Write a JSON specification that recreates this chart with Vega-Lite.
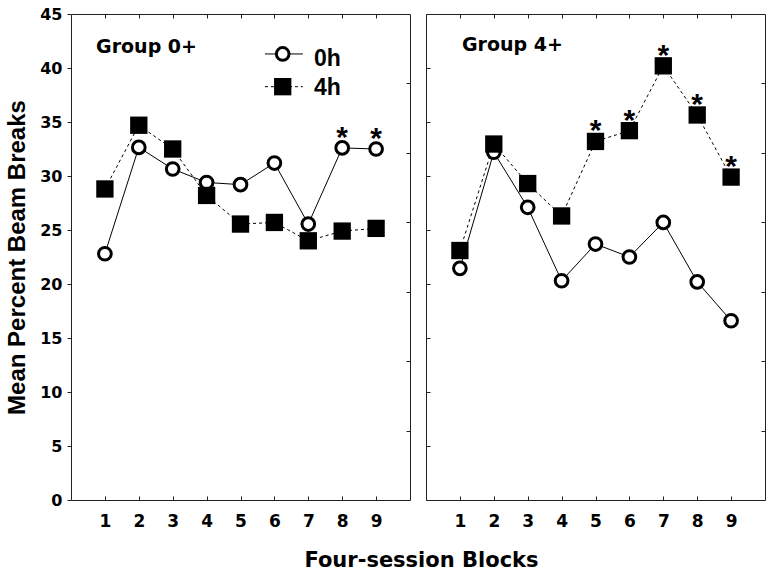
{
  "$schema": "https://vega.github.io/schema/vega-lite/v6.json",
  "background": "white",
  "padding": 5,
  "bounds": "flush",
  "spacing": 16,
  "datasets": {
    "d": [
      {"group": "Group 0+", "cond": "0h", "block": 1, "value": 22.8, "sig": false},
      {"group": "Group 0+", "cond": "0h", "block": 2, "value": 32.65, "sig": false},
      {"group": "Group 0+", "cond": "0h", "block": 3, "value": 30.65, "sig": false},
      {"group": "Group 0+", "cond": "0h", "block": 4, "value": 29.4, "sig": false},
      {"group": "Group 0+", "cond": "0h", "block": 5, "value": 29.2, "sig": false},
      {"group": "Group 0+", "cond": "0h", "block": 6, "value": 31.2, "sig": false},
      {"group": "Group 0+", "cond": "0h", "block": 7, "value": 25.55, "sig": false},
      {"group": "Group 0+", "cond": "0h", "block": 8, "value": 32.6, "sig": true},
      {"group": "Group 0+", "cond": "0h", "block": 9, "value": 32.5, "sig": true},
      {"group": "Group 0+", "cond": "4h", "block": 1, "value": 28.8, "sig": false},
      {"group": "Group 0+", "cond": "4h", "block": 2, "value": 34.7, "sig": false},
      {"group": "Group 0+", "cond": "4h", "block": 3, "value": 32.5, "sig": false},
      {"group": "Group 0+", "cond": "4h", "block": 4, "value": 28.2, "sig": false},
      {"group": "Group 0+", "cond": "4h", "block": 5, "value": 25.55, "sig": false},
      {"group": "Group 0+", "cond": "4h", "block": 6, "value": 25.7, "sig": false},
      {"group": "Group 0+", "cond": "4h", "block": 7, "value": 24.0, "sig": false},
      {"group": "Group 0+", "cond": "4h", "block": 8, "value": 24.9, "sig": false},
      {"group": "Group 0+", "cond": "4h", "block": 9, "value": 25.15, "sig": false},
      {"group": "Group 4+", "cond": "0h", "block": 1, "value": 21.45, "sig": false},
      {"group": "Group 4+", "cond": "0h", "block": 2, "value": 32.2, "sig": false},
      {"group": "Group 4+", "cond": "0h", "block": 3, "value": 27.1, "sig": false},
      {"group": "Group 4+", "cond": "0h", "block": 4, "value": 20.3, "sig": false},
      {"group": "Group 4+", "cond": "0h", "block": 5, "value": 23.7, "sig": false},
      {"group": "Group 4+", "cond": "0h", "block": 6, "value": 22.5, "sig": false},
      {"group": "Group 4+", "cond": "0h", "block": 7, "value": 25.7, "sig": false},
      {"group": "Group 4+", "cond": "0h", "block": 8, "value": 20.2, "sig": false},
      {"group": "Group 4+", "cond": "0h", "block": 9, "value": 16.6, "sig": false},
      {"group": "Group 4+", "cond": "4h", "block": 1, "value": 23.1, "sig": false},
      {"group": "Group 4+", "cond": "4h", "block": 2, "value": 32.96, "sig": false},
      {"group": "Group 4+", "cond": "4h", "block": 3, "value": 29.3, "sig": false},
      {"group": "Group 4+", "cond": "4h", "block": 4, "value": 26.3, "sig": false},
      {"group": "Group 4+", "cond": "4h", "block": 5, "value": 33.2, "sig": true},
      {"group": "Group 4+", "cond": "4h", "block": 6, "value": 34.2, "sig": true},
      {"group": "Group 4+", "cond": "4h", "block": 7, "value": 40.2, "sig": true},
      {"group": "Group 4+", "cond": "4h", "block": 8, "value": 35.65, "sig": true},
      {"group": "Group 4+", "cond": "4h", "block": 9, "value": 29.9, "sig": true}
    ]
  },
  "config": {
    "view": {"stroke": "#222", "strokeWidth": 1},
    "axis": {"grid": false, "domain": false, "tickColor": "#222", "labelColor": "#000", "titleColor": "#000", "labelFont": "DejaVu Sans", "labelFontWeight": "bold"}
  },
  "hconcat": [
    {
      "width": 339,
      "height": 486,
      "data": {"name": "d"},
      "transform": [{"filter": "datum.group === 'Group 0+'"}],
      "layer": [
        {
          "layer": [
            {
              "transform": [{"filter": "datum.cond === '0h'"}],
              "mark": {"type": "line", "color": "#000", "strokeWidth": 1},
              "encoding": {
                "x": {"field": "block", "type": "quantitative", "scale": {"domain": [0, 10], "nice": false},
                  "axis": {"values": [1, 2, 3, 4, 5, 6, 7, 8, 9], "tickSize": -4, "labelPadding": 17, "labelFontSize": 17,
                    "title": "Four-session Blocks", "titleX": 350, "titleY": 66, "titleBaseline": "alphabetic", "titleAlign": "center",
                    "titleFont": "DejaVu Sans", "titleFontSize": 21, "titleFontWeight": "bold"}},
                "y": {"field": "value", "type": "quantitative", "scale": {"domain": [0, 45], "nice": false},
                  "axis": {"values": [0, 5, 10, 15, 20, 25, 30, 35, 40, 45], "tickSize": 4, "labelPadding": 5, "labelFontSize": 16,
                    "title": "Mean Percent Beam Breaks", "titleFont": "Liberation Sans", "titleFontSize": 24, "titleFontWeight": "bold", "titlePadding": 10}}
              }
            },
            {
              "transform": [{"filter": "datum.cond === '4h'"}],
              "mark": {"type": "line", "color": "#000", "strokeWidth": 1, "strokeDash": [3, 3]},
              "encoding": {"x": {"field": "block", "type": "quantitative"}, "y": {"field": "value", "type": "quantitative"}}
            },
            {
              "transform": [{"filter": "datum.cond === '0h'"}],
              "mark": {"type": "point", "shape": "circle", "filled": true, "fill": "#fff", "stroke": "#000", "strokeWidth": 3, "size": 161, "opacity": 1},
              "encoding": {"x": {"field": "block", "type": "quantitative"}, "y": {"field": "value", "type": "quantitative"}}
            },
            {
              "transform": [{"filter": "datum.cond === '4h'"}],
              "mark": {"type": "point", "shape": "square", "filled": true, "fill": "#000", "stroke": null, "size": 300, "opacity": 1},
              "encoding": {"x": {"field": "block", "type": "quantitative"}, "y": {"field": "value", "type": "quantitative"}}
            },
            {
              "transform": [{"filter": "datum.sig"}],
              "mark": {"type": "text", "text": "*", "font": "Liberation Sans", "fontSize": 30, "fontWeight": "bold", "baseline": "alphabetic", "align": "center", "dy": -1, "color": "#000"},
              "encoding": {"x": {"field": "block", "type": "quantitative"}, "y": {"field": "value", "type": "quantitative"}}
            },
            {
              "data": {"values": [{"label": "Group 0+"}]},
              "mark": {"type": "text", "font": "DejaVu Sans", "fontSize": 19, "fontWeight": "bold", "align": "left", "baseline": "alphabetic", "color": "#000"},
              "encoding": {"x": {"datum": 0.74}, "y": {"datum": 41.36}, "text": {"field": "label"}}
            },
            {
              "data": {"values": [{"label": "0h"}]},
              "mark": {"type": "rule", "color": "#000", "strokeWidth": 1},
              "encoding": {"x": {"datum": 5.72}, "x2": {"datum": 6.84}, "y": {"datum": 41.3}}
            },
            {
              "data": {"values": [{"label": "4h"}]},
              "mark": {"type": "rule", "color": "#000", "strokeWidth": 1, "strokeDash": [3, 3]},
              "encoding": {"x": {"datum": 5.72}, "x2": {"datum": 6.84}, "y": {"datum": 38.27}}
            },
            {
              "data": {"values": [{"label": "0h"}]},
              "mark": {"type": "point", "shape": "circle", "filled": true, "fill": "#fff", "stroke": "#000", "strokeWidth": 3, "size": 161, "opacity": 1},
              "encoding": {"x": {"datum": 6.245}, "y": {"datum": 41.3}}
            },
            {
              "data": {"values": [{"label": "4h"}]},
              "mark": {"type": "point", "shape": "square", "filled": true, "fill": "#000", "stroke": null, "size": 300, "opacity": 1},
              "encoding": {"x": {"datum": 6.245}, "y": {"datum": 38.27}}
            },
            {
              "data": {"values": [{"label": "0h"}]},
              "mark": {"type": "text", "font": "Liberation Sans", "fontSize": 23, "fontWeight": "bold", "align": "left", "baseline": "alphabetic", "color": "#000"},
              "encoding": {"x": {"datum": 7.17}, "y": {"datum": 40.19}, "text": {"field": "label"}}
            },
            {
              "data": {"values": [{"label": "4h"}]},
              "mark": {"type": "text", "font": "Liberation Sans", "fontSize": 23, "fontWeight": "bold", "align": "left", "baseline": "alphabetic", "color": "#000"},
              "encoding": {"x": {"datum": 7.17}, "y": {"datum": 37.5}, "text": {"field": "label"}}
            }
          ]
        },
        {
          "data": {"values": [{"v": 0}]},
          "mark": {"type": "point", "opacity": 0},
          "encoding": {
            "x": {"datum": 1, "scale": {"domain": [0, 10], "nice": false},
              "axis": {"orient": "top", "values": [1, 2, 3, 4, 5, 6, 7, 8, 9], "tickSize": -4, "labels": false, "title": null}},
            "y": {"field": "v", "type": "quantitative", "scale": {"domain": [0, 70], "nice": false},
              "axis": {"orient": "right", "values": [10, 20, 30, 40, 50, 60], "tickSize": -4, "labels": false, "title": null}}
          }
        }
      ],
      "resolve": {"scale": {"y": "independent"}, "axis": {"x": "independent", "y": "independent"}}
    },
    {
      "width": 339,
      "height": 486,
      "data": {"name": "d"},
      "transform": [{"filter": "datum.group === 'Group 4+'"}],
      "layer": [
        {
          "layer": [
            {
              "transform": [{"filter": "datum.cond === '0h'"}],
              "mark": {"type": "line", "color": "#000", "strokeWidth": 1},
              "encoding": {
                "x": {"field": "block", "type": "quantitative", "scale": {"domain": [0, 10], "nice": false},
                  "axis": {"values": [1, 2, 3, 4, 5, 6, 7, 8, 9], "tickSize": -4, "labelPadding": 17, "labelFontSize": 17, "title": null}},
                "y": {"field": "value", "type": "quantitative", "scale": {"domain": [0, 45], "nice": false},
                  "axis": {"values": [0, 5, 10, 15, 20, 25, 30, 35, 40, 45], "tickSize": -4, "labels": false, "title": null}}
              }
            },
            {
              "transform": [{"filter": "datum.cond === '4h'"}],
              "mark": {"type": "line", "color": "#000", "strokeWidth": 1, "strokeDash": [3, 3]},
              "encoding": {"x": {"field": "block", "type": "quantitative"}, "y": {"field": "value", "type": "quantitative"}}
            },
            {
              "transform": [{"filter": "datum.cond === '0h'"}],
              "mark": {"type": "point", "shape": "circle", "filled": true, "fill": "#fff", "stroke": "#000", "strokeWidth": 3, "size": 161, "opacity": 1},
              "encoding": {"x": {"field": "block", "type": "quantitative"}, "y": {"field": "value", "type": "quantitative"}}
            },
            {
              "transform": [{"filter": "datum.cond === '4h'"}],
              "mark": {"type": "point", "shape": "square", "filled": true, "fill": "#000", "stroke": null, "size": 300, "opacity": 1},
              "encoding": {"x": {"field": "block", "type": "quantitative"}, "y": {"field": "value", "type": "quantitative"}}
            },
            {
              "transform": [{"filter": "datum.sig"}],
              "mark": {"type": "text", "text": "*", "font": "Liberation Sans", "fontSize": 30, "fontWeight": "bold", "baseline": "alphabetic", "align": "center", "dy": -1, "color": "#000"},
              "encoding": {"x": {"field": "block", "type": "quantitative"}, "y": {"field": "value", "type": "quantitative"}}
            },
            {
              "data": {"values": [{"label": "Group 4+"}]},
              "mark": {"type": "text", "font": "DejaVu Sans", "fontSize": 19, "fontWeight": "bold", "align": "left", "baseline": "alphabetic", "color": "#000"},
              "encoding": {"x": {"datum": 1.06}, "y": {"datum": 41.6}, "text": {"field": "label"}}
            }
          ]
        },
        {
          "data": {"values": [{"v": 0}]},
          "mark": {"type": "point", "opacity": 0},
          "encoding": {
            "x": {"datum": 1, "scale": {"domain": [0, 10], "nice": false},
              "axis": {"orient": "top", "values": [1, 2, 3, 4, 5, 6, 7, 8, 9], "tickSize": -4, "labels": false, "title": null}},
            "y": {"field": "v", "type": "quantitative", "scale": {"domain": [0, 70], "nice": false},
              "axis": {"orient": "right", "values": [10, 20, 30, 40, 50, 60], "tickSize": -4, "labels": false, "title": null}}
          }
        }
      ],
      "resolve": {"scale": {"y": "independent"}, "axis": {"x": "independent", "y": "independent"}}
    }
  ]
}
